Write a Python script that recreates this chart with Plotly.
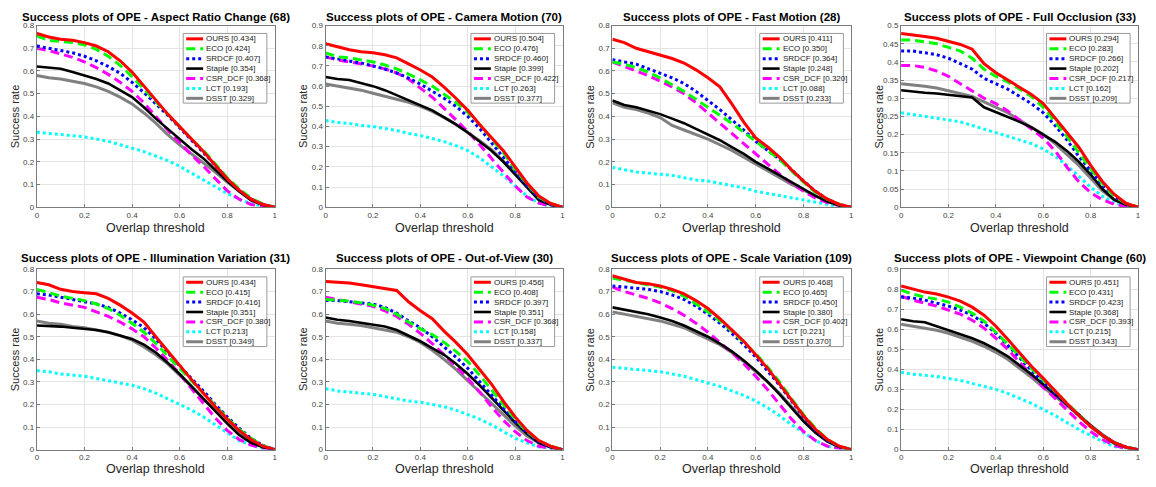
import plotly.graph_objects as go

# Overlap thresholds used for the success plots
thresholds = [0.0, 0.05, 0.1, 0.15, 0.2, 0.25, 0.3, 0.35, 0.4, 0.45, 0.5,
              0.55, 0.6, 0.65, 0.7, 0.75, 0.8, 0.85, 0.9, 0.95, 1.0]

trackers = ["OURS", "ECO", "SRDCF", "Staple", "CSR_DCF", "LCT", "DSST"]
tracker_colors = ["#ff0000", "#00ff00", "#0000ff", "#000000", "#ff00ff", "#00ffff", "#808080"]
tracker_dashes = ["solid", "9px,5px", "3px,3px", "solid", "9px,5px", "3px,3px", "solid"]
tracker_widths = [3, 3, 3, 2.6, 3, 3, 3]

attr_names = ["Aspect Ratio Change", "Camera Motion", "Fast Motion", "Full Occlusion",
              "Illumination Variation", "Out-of-View", "Scale Variation", "Viewpoint Change"]
attr_counts = [68, 70, 28, 33, 31, 30, 109, 60]
attr_ymax = [0.8, 0.9, 0.8, 0.5, 0.8, 0.8, 0.8, 0.9]
attr_dtick = [0.1, 0.1, 0.1, 0.05, 0.1, 0.1, 0.1, 0.1]

# AUC scores per attribute, in tracker order
arc_auc = [0.434, 0.424, 0.407, 0.354, 0.368, 0.193, 0.329]
cm_auc = [0.504, 0.476, 0.460, 0.399, 0.422, 0.263, 0.377]
fm_auc = [0.411, 0.350, 0.364, 0.248, 0.320, 0.088, 0.233]
fo_auc = [0.294, 0.283, 0.266, 0.202, 0.217, 0.162, 0.209]
iv_auc = [0.434, 0.415, 0.416, 0.351, 0.380, 0.213, 0.349]
ov_auc = [0.456, 0.408, 0.397, 0.351, 0.368, 0.158, 0.337]
sv_auc = [0.468, 0.465, 0.450, 0.380, 0.402, 0.221, 0.370]
vc_auc = [0.451, 0.431, 0.423, 0.368, 0.393, 0.215, 0.343]

# Success rate curves
arc_success = {
    "OURS":    [0.765, 0.75, 0.74, 0.735, 0.725, 0.71, 0.685, 0.645, 0.595, 0.535, 0.47, 0.41, 0.355, 0.3, 0.245, 0.185, 0.125, 0.075, 0.035, 0.012, 0.0],
    "ECO":     [0.755, 0.735, 0.73, 0.725, 0.715, 0.695, 0.665, 0.625, 0.575, 0.52, 0.465, 0.41, 0.355, 0.3, 0.25, 0.19, 0.13, 0.08, 0.04, 0.013, 0.0],
    "SRDCF":   [0.71, 0.7, 0.69, 0.68, 0.665, 0.645, 0.62, 0.59, 0.55, 0.505, 0.455, 0.405, 0.35, 0.295, 0.24, 0.185, 0.125, 0.075, 0.035, 0.012, 0.0],
    "Staple":  [0.62, 0.615, 0.61, 0.595, 0.58, 0.565, 0.545, 0.515, 0.485, 0.44, 0.39, 0.345, 0.3, 0.255, 0.215, 0.165, 0.115, 0.07, 0.03, 0.01, 0.0],
    "CSR_DCF": [0.70, 0.69, 0.675, 0.66, 0.64, 0.615, 0.585, 0.55, 0.51, 0.46, 0.40, 0.34, 0.285, 0.23, 0.18, 0.125, 0.072, 0.035, 0.012, 0.003, 0.0],
    "LCT":     [0.33, 0.325, 0.32, 0.315, 0.31, 0.3, 0.29, 0.275, 0.26, 0.245, 0.225, 0.205, 0.18, 0.15, 0.12, 0.09, 0.06, 0.035, 0.015, 0.005, 0.0],
    "DSST":    [0.58, 0.57, 0.565, 0.555, 0.545, 0.53, 0.51, 0.485, 0.455, 0.415, 0.37, 0.32, 0.275, 0.235, 0.195, 0.155, 0.11, 0.07, 0.035, 0.012, 0.0],
}
cm_success = {
    "OURS":    [0.81, 0.795, 0.78, 0.77, 0.765, 0.755, 0.74, 0.71, 0.68, 0.645, 0.595, 0.54, 0.48, 0.41, 0.345, 0.28, 0.2, 0.12, 0.055, 0.018, 0.0],
    "ECO":     [0.765, 0.745, 0.74, 0.73, 0.72, 0.705, 0.685, 0.66, 0.63, 0.6, 0.56, 0.52, 0.47, 0.41, 0.34, 0.27, 0.19, 0.115, 0.05, 0.018, 0.0],
    "SRDCF":   [0.745, 0.735, 0.725, 0.715, 0.7, 0.685, 0.665, 0.64, 0.61, 0.575, 0.54, 0.5, 0.45, 0.39, 0.32, 0.25, 0.175, 0.105, 0.045, 0.015, 0.0],
    "Staple":  [0.645, 0.635, 0.63, 0.615, 0.6, 0.58, 0.555, 0.53, 0.505, 0.48, 0.445, 0.41, 0.37, 0.325, 0.28, 0.225, 0.16, 0.095, 0.035, 0.012, 0.0],
    "CSR_DCF": [0.745, 0.73, 0.72, 0.71, 0.7, 0.685, 0.665, 0.635, 0.59, 0.545, 0.49, 0.435, 0.375, 0.31, 0.24, 0.17, 0.105, 0.05, 0.02, 0.005, 0.0],
    "LCT":     [0.43, 0.42, 0.415, 0.405, 0.4, 0.39, 0.38, 0.365, 0.355, 0.34, 0.325, 0.305, 0.28, 0.245, 0.2, 0.155, 0.105, 0.055, 0.02, 0.005, 0.0],
    "DSST":    [0.61, 0.6, 0.59, 0.58, 0.565, 0.55, 0.535, 0.52, 0.5, 0.475, 0.445, 0.41, 0.37, 0.33, 0.285, 0.23, 0.17, 0.105, 0.045, 0.015, 0.0],
}
fm_success = {
    "OURS":    [0.74, 0.725, 0.7, 0.685, 0.67, 0.655, 0.635, 0.605, 0.57, 0.53, 0.455, 0.375, 0.305, 0.265, 0.22, 0.165, 0.115, 0.07, 0.035, 0.012, 0.0],
    "ECO":     [0.64, 0.63, 0.615, 0.595, 0.57, 0.54, 0.51, 0.475, 0.44, 0.405, 0.37, 0.33, 0.29, 0.25, 0.21, 0.16, 0.11, 0.065, 0.035, 0.012, 0.0],
    "SRDCF":   [0.65, 0.64, 0.63, 0.61, 0.59, 0.57, 0.545, 0.51, 0.47, 0.43, 0.385, 0.34, 0.29, 0.25, 0.21, 0.165, 0.115, 0.07, 0.035, 0.012, 0.0],
    "Staple":  [0.47, 0.45, 0.44, 0.425, 0.41, 0.39, 0.37, 0.345, 0.32, 0.295, 0.265, 0.235, 0.2, 0.17, 0.14, 0.11, 0.08, 0.05, 0.025, 0.008, 0.0],
    "CSR_DCF": [0.64, 0.62, 0.6, 0.58, 0.555, 0.53, 0.5, 0.46, 0.415, 0.37, 0.325, 0.28, 0.235, 0.19, 0.145, 0.105, 0.07, 0.04, 0.02, 0.007, 0.0],
    "LCT":     [0.175, 0.165, 0.155, 0.15, 0.145, 0.14, 0.13, 0.12, 0.115, 0.105, 0.095, 0.085, 0.07, 0.06, 0.05, 0.04, 0.03, 0.02, 0.01, 0.003, 0.0],
    "DSST":    [0.46, 0.44, 0.43, 0.415, 0.395, 0.36, 0.34, 0.32, 0.3, 0.275, 0.25, 0.22, 0.19, 0.16, 0.13, 0.1, 0.075, 0.05, 0.025, 0.008, 0.0],
}
fo_success = {
    "OURS":    [0.478, 0.475, 0.47, 0.465, 0.457, 0.448, 0.435, 0.395, 0.37, 0.35, 0.33, 0.31, 0.285, 0.245, 0.205, 0.165, 0.115, 0.07, 0.035, 0.01, 0.0],
    "ECO":     [0.46, 0.46, 0.455, 0.45, 0.44, 0.43, 0.41, 0.38, 0.36, 0.345, 0.325, 0.305, 0.275, 0.235, 0.195, 0.15, 0.105, 0.065, 0.03, 0.01, 0.0],
    "SRDCF":   [0.43, 0.43, 0.425, 0.42, 0.41, 0.395, 0.38, 0.355, 0.34, 0.325, 0.305, 0.285, 0.26, 0.225, 0.185, 0.14, 0.1, 0.06, 0.03, 0.01, 0.0],
    "Staple":  [0.322, 0.318, 0.315, 0.313, 0.31, 0.306, 0.302, 0.275, 0.262, 0.25, 0.235, 0.22, 0.2, 0.18, 0.155, 0.125, 0.09, 0.05, 0.02, 0.007, 0.0],
    "CSR_DCF": [0.39, 0.39, 0.385, 0.375, 0.36, 0.34, 0.32, 0.3, 0.285, 0.265, 0.24, 0.215, 0.19, 0.155, 0.11, 0.07, 0.04, 0.02, 0.008, 0.002, 0.0],
    "LCT":     [0.26, 0.255, 0.25, 0.245, 0.24, 0.235, 0.225, 0.215, 0.205, 0.195, 0.185, 0.175, 0.16, 0.14, 0.115, 0.085, 0.055, 0.03, 0.012, 0.003, 0.0],
    "DSST":    [0.34, 0.337, 0.333, 0.328, 0.32, 0.313, 0.305, 0.29, 0.275, 0.26, 0.24, 0.22, 0.2, 0.175, 0.145, 0.115, 0.08, 0.045, 0.02, 0.007, 0.0],
}
iv_success = {
    "OURS":    [0.74, 0.73, 0.71, 0.7, 0.695, 0.69, 0.67, 0.64, 0.605, 0.565, 0.5, 0.435, 0.37, 0.31, 0.25, 0.19, 0.135, 0.085, 0.045, 0.015, 0.0],
    "ECO":     [0.71, 0.695, 0.68, 0.67, 0.66, 0.645, 0.625, 0.595, 0.56, 0.52, 0.47, 0.415, 0.36, 0.305, 0.25, 0.195, 0.14, 0.09, 0.05, 0.018, 0.0],
    "SRDCF":   [0.69, 0.685, 0.675, 0.665, 0.655, 0.645, 0.63, 0.605, 0.575, 0.54, 0.49, 0.43, 0.37, 0.315, 0.26, 0.2, 0.145, 0.095, 0.05, 0.018, 0.0],
    "Staple":  [0.55, 0.548, 0.545, 0.54, 0.535, 0.53, 0.52, 0.505, 0.49, 0.465, 0.43, 0.385, 0.335, 0.28, 0.225, 0.17, 0.115, 0.065, 0.03, 0.01, 0.0],
    "CSR_DCF": [0.675, 0.665, 0.65, 0.64, 0.63, 0.61, 0.59, 0.565, 0.535, 0.5, 0.45, 0.395, 0.335, 0.27, 0.205, 0.14, 0.085, 0.045, 0.02, 0.006, 0.0],
    "LCT":     [0.35, 0.345, 0.335, 0.33, 0.325, 0.315, 0.305, 0.295, 0.285, 0.27, 0.25, 0.225, 0.2, 0.175, 0.145, 0.11, 0.075, 0.04, 0.02, 0.005, 0.0],
    "DSST":    [0.57, 0.56, 0.555, 0.545, 0.54, 0.53, 0.52, 0.505, 0.485, 0.455, 0.42, 0.38, 0.33, 0.28, 0.225, 0.175, 0.125, 0.08, 0.04, 0.012, 0.0],
}
ov_success = {
    "OURS":    [0.745, 0.742, 0.738, 0.73, 0.722, 0.715, 0.705, 0.655, 0.615, 0.58, 0.525, 0.475, 0.42, 0.355, 0.29, 0.215, 0.145, 0.085, 0.04, 0.015, 0.0],
    "ECO":     [0.665, 0.662, 0.658, 0.65, 0.64, 0.625, 0.6, 0.565, 0.535, 0.51, 0.475, 0.435, 0.39, 0.33, 0.265, 0.2, 0.135, 0.08, 0.04, 0.015, 0.0],
    "SRDCF":   [0.66, 0.66, 0.655, 0.65, 0.645, 0.63, 0.605, 0.57, 0.54, 0.5, 0.455, 0.41, 0.36, 0.3, 0.24, 0.18, 0.125, 0.075, 0.035, 0.012, 0.0],
    "Staple":  [0.585, 0.575, 0.57, 0.562, 0.555, 0.545, 0.53, 0.505, 0.48, 0.45, 0.42, 0.38, 0.335, 0.285, 0.23, 0.175, 0.12, 0.07, 0.03, 0.01, 0.0],
    "CSR_DCF": [0.675, 0.665, 0.655, 0.645, 0.635, 0.615, 0.59, 0.555, 0.515, 0.47, 0.42, 0.37, 0.315, 0.255, 0.19, 0.13, 0.08, 0.04, 0.015, 0.005, 0.0],
    "LCT":     [0.27, 0.26, 0.255, 0.25, 0.245, 0.235, 0.225, 0.215, 0.21, 0.2, 0.19, 0.175, 0.155, 0.135, 0.11, 0.08, 0.05, 0.03, 0.012, 0.004, 0.0],
    "DSST":    [0.57, 0.56, 0.555, 0.55, 0.54, 0.53, 0.52, 0.5, 0.475, 0.44, 0.4, 0.355, 0.305, 0.255, 0.205, 0.155, 0.105, 0.06, 0.03, 0.01, 0.0],
}
sv_success = {
    "OURS":    [0.77, 0.755, 0.74, 0.735, 0.725, 0.71, 0.69, 0.66, 0.625, 0.58, 0.53, 0.48, 0.42, 0.36, 0.29, 0.22, 0.15, 0.09, 0.045, 0.015, 0.0],
    "ECO":     [0.76, 0.75, 0.74, 0.73, 0.72, 0.705, 0.68, 0.645, 0.61, 0.57, 0.525, 0.475, 0.425, 0.365, 0.3, 0.225, 0.155, 0.095, 0.045, 0.015, 0.0],
    "SRDCF":   [0.725, 0.72, 0.715, 0.71, 0.7, 0.685, 0.665, 0.635, 0.6, 0.56, 0.515, 0.465, 0.41, 0.35, 0.285, 0.215, 0.145, 0.085, 0.04, 0.013, 0.0],
    "Staple":  [0.63, 0.62, 0.61, 0.6, 0.585, 0.57, 0.55, 0.525, 0.5, 0.47, 0.435, 0.395, 0.35, 0.3, 0.245, 0.185, 0.125, 0.075, 0.035, 0.012, 0.0],
    "CSR_DCF": [0.72, 0.7, 0.685, 0.67, 0.65, 0.625, 0.595, 0.56, 0.52, 0.475, 0.43, 0.38, 0.325, 0.265, 0.2, 0.135, 0.08, 0.04, 0.015, 0.005, 0.0],
    "LCT":     [0.365, 0.36, 0.355, 0.35, 0.345, 0.335, 0.325, 0.31, 0.295, 0.28, 0.26, 0.24, 0.215, 0.185, 0.15, 0.11, 0.075, 0.04, 0.015, 0.005, 0.0],
    "DSST":    [0.61, 0.6, 0.59, 0.58, 0.57, 0.555, 0.54, 0.515, 0.49, 0.465, 0.43, 0.39, 0.345, 0.3, 0.25, 0.19, 0.13, 0.08, 0.04, 0.013, 0.0],
}
vc_success = {
    "OURS":    [0.815, 0.8, 0.785, 0.775, 0.76, 0.74, 0.71, 0.67, 0.615, 0.55, 0.48, 0.415, 0.355, 0.29, 0.23, 0.17, 0.115, 0.07, 0.035, 0.012, 0.0],
    "ECO":     [0.795, 0.775, 0.76, 0.75, 0.735, 0.71, 0.68, 0.64, 0.585, 0.525, 0.46, 0.4, 0.345, 0.29, 0.23, 0.17, 0.115, 0.07, 0.035, 0.012, 0.0],
    "SRDCF":   [0.76, 0.755, 0.745, 0.73, 0.715, 0.695, 0.67, 0.63, 0.58, 0.52, 0.455, 0.395, 0.335, 0.28, 0.225, 0.17, 0.115, 0.07, 0.035, 0.012, 0.0],
    "Staple":  [0.65, 0.64, 0.635, 0.615, 0.595, 0.575, 0.555, 0.53, 0.5, 0.465, 0.42, 0.375, 0.325, 0.275, 0.225, 0.175, 0.12, 0.07, 0.03, 0.01, 0.0],
    "CSR_DCF": [0.765, 0.745, 0.73, 0.715, 0.695, 0.675, 0.645, 0.605, 0.555, 0.5, 0.435, 0.37, 0.31, 0.255, 0.195, 0.14, 0.09, 0.05, 0.02, 0.006, 0.0],
    "LCT":     [0.385, 0.375, 0.37, 0.365, 0.355, 0.345, 0.33, 0.315, 0.3, 0.28, 0.255, 0.23, 0.2, 0.17, 0.135, 0.1, 0.07, 0.04, 0.015, 0.005, 0.0],
    "DSST":    [0.625, 0.615, 0.605, 0.595, 0.58, 0.56, 0.54, 0.515, 0.485, 0.45, 0.405, 0.36, 0.31, 0.265, 0.22, 0.17, 0.12, 0.075, 0.035, 0.012, 0.0],
}

panel_success = [arc_success, cm_success, fm_success, fo_success,
                 iv_success, ov_success, sv_success, vc_success]
panel_auc = [arc_auc, cm_auc, fm_auc, fo_auc, iv_auc, ov_auc, sv_auc, vc_auc]

# ---- page geometry (pixels) ----
W, H = 1156, 487
col_px = [(35, 274), (325, 563), (613, 853), (903, 1141)]
row_px = [(22, 207), (270, 454)]
title_y_px = [13, 259]
xtitle_y_px = [228, 474]

FONT = "Arial, Liberation Sans, Helvetica, sans-serif"
AXIS_COLOR = "#7a7a7a"
GRID_COLOR = "#e4e4e4"
TEXT_COLOR = "#262626"


def px_x(p):
    return p / W


def px_y(p):
    return 1 - p / H


fig = go.Figure()
layout = dict(
    width=W, height=H,
    margin=dict(l=0, r=0, t=0, b=0),
    paper_bgcolor="white", plot_bgcolor="white",
    showlegend=False,
    font=dict(family=FONT, color=TEXT_COLOR),
)
annotations = []
shapes = []

for k in range(8):
    r, c = divmod(k, 4)
    L, R = col_px[c]
    T, B = row_px[r]
    ax = "" if k == 0 else str(k + 1)
    xref, yref = "x" + ax, "y" + ax

    layout["xaxis" + ax] = dict(
        domain=[px_x(L), px_x(R)], anchor=yref, range=[0, 1], dtick=0.2,
        showline=True, mirror=True, linecolor=AXIS_COLOR, linewidth=1,
        ticks="inside", ticklen=3, tickcolor=AXIS_COLOR,
        showgrid=True, gridcolor=GRID_COLOR, gridwidth=1, zeroline=False,
        tickfont=dict(size=8, color="#444444", family=FONT),
        fixedrange=True,
    )
    layout["yaxis" + ax] = dict(
        domain=[px_y(B), px_y(T)], anchor=xref, range=[0, attr_ymax[k]],
        dtick=attr_dtick[k],
        showline=True, mirror=True, linecolor=AXIS_COLOR, linewidth=1,
        ticks="inside", ticklen=3, tickcolor=AXIS_COLOR,
        showgrid=True, gridcolor=GRID_COLOR, gridwidth=1, zeroline=False,
        tickfont=dict(size=8, color="#444444", family=FONT),
        fixedrange=True,
    )

    curves = panel_success[k]
    # draw from last to first so OURS sits on top
    for i in reversed(range(len(trackers))):
        name = trackers[i]
        fig.add_trace(go.Scatter(
            x=thresholds, y=curves[name], mode="lines",
            name=f"{name} [{panel_auc[k][i]:.3f}]",
            line=dict(color=tracker_colors[i], dash=tracker_dashes[i],
                      width=tracker_widths[i]),
            xaxis=xref, yaxis=yref, hoverinfo="skip",
        ))

    # panel title
    annotations.append(dict(
        text=f"<b>Success plots of OPE - {attr_names[k]} ({attr_counts[k]})</b>",
        xref="paper", yref="paper", x=px_x((L + R) / 2), y=px_y(title_y_px[r]),
        xanchor="center", yanchor="middle", showarrow=False,
        font=dict(size=11.5, color="#000000", family=FONT),
    ))
    # axis titles
    annotations.append(dict(
        text="Overlap threshold", xref="paper", yref="paper",
        x=px_x((L + R) / 2), y=px_y(xtitle_y_px[r]),
        xanchor="center", yanchor="middle", showarrow=False,
        font=dict(size=12.5, color=TEXT_COLOR, family=FONT),
    ))
    annotations.append(dict(
        text="Success rate", xref="paper", yref="paper",
        x=px_x(L - 22), y=px_y((T + B) / 2), textangle=-90,
        xanchor="center", yanchor="middle", showarrow=False,
        font=dict(size=11, color=TEXT_COLOR, family=FONT),
    ))

    # legend box in the upper-right corner of the panel
    box_r = R - 8
    box_l = box_r - 84
    box_t = T + 8
    box_b = box_t + 71
    shapes.append(dict(
        type="rect", xref="paper", yref="paper",
        x0=px_x(box_l), x1=px_x(box_r), y0=px_y(box_b), y1=px_y(box_t),
        line=dict(color="#9a9a9a", width=1), fillcolor="white", layer="above",
    ))
    for i, name in enumerate(trackers):
        yc = box_t + 5.5 + i * 10.1
        shapes.append(dict(
            type="line", xref="paper", yref="paper",
            x0=px_x(box_l + 3), x1=px_x(box_l + 20),
            y0=px_y(yc), y1=px_y(yc),
            line=dict(color=tracker_colors[i], width=tracker_widths[i],
                      dash=tracker_dashes[i]),
            layer="above",
        ))
        annotations.append(dict(
            text=f"{name} [{panel_auc[k][i]:.3f}]",
            xref="paper", yref="paper", x=px_x(box_l + 21), y=px_y(yc),
            xanchor="left", yanchor="middle", showarrow=False,
            font=dict(size=8, color="#1a1a1a", family=FONT),
        ))

layout["annotations"] = annotations
layout["shapes"] = shapes
fig.update_layout(**layout)

fig.write_html("out.html")
